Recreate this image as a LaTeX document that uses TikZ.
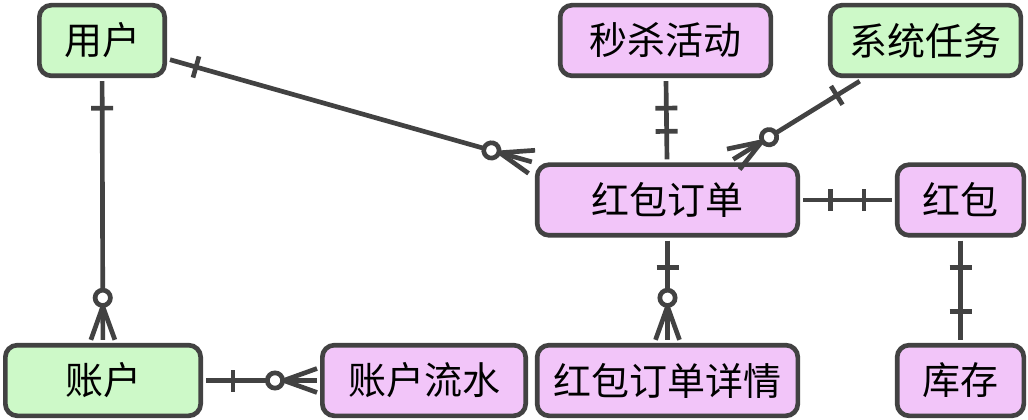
\documentclass[tikz,border=0pt]{standalone}
\usepackage{fontspec}
\newfontfamily\cjk{Noto Sans CJK SC}
\usepackage{xcolor}
\usetikzlibrary{decorations.markings}

\definecolor{lineg}{HTML}{424242}
\definecolor{entgreen}{HTML}{CDF9C8}
\definecolor{entpink}{HTML}{F2C5F9}

\tikzset{
    entity/.style={draw=lineg, line width=3.5pt, rounded corners=9pt, text=black,
        minimum height=53pt, outer sep=4pt, inner sep=0pt,
        font=\cjk\fontsize{28.5}{30}\selectfont},
    greenent/.style={entity, fill=entgreen},
    pinkent/.style={entity, fill=entpink},
    rel/.style={draw=lineg, line width=3.5pt},
    % 关系端点标记
    start one/.style={postaction={decorate, decoration={markings,
        mark=at position 20.25pt with {\draw[lineg, line width=3.5pt] (0,-8.25pt) -- (0,8.25pt);}}}},
    end one/.style={postaction={decorate, decoration={markings,
        mark=at position -21pt with {\draw[lineg, line width=3.5pt] (0,-8.25pt) -- (0,8.25pt);}}}},
    end many/.style={postaction={decorate, decoration={markings,
        mark=at position -31.5pt with {\draw[lineg, line width=3.5pt, fill=white] (0,0) circle (5.75pt);},
        mark=at position -25pt with {\draw[lineg, line width=3.5pt] (0,0) -- (25pt,9pt) (0,0) -- (25pt,-9pt);}}}},
}

\begin{document}
\begin{tikzpicture}[x=0.75pt, y=-0.75pt]
    \useasboundingbox (0,0) rectangle (1028,420);

    % 实体
    \node[greenent, minimum width=94pt]  (user)    at (102,40.5)   {用户};
    \node[pinkent,  minimum width=158pt] (seckill) at (665.5,40.5) {秒杀活动};
    \node[greenent, minimum width=143pt] (task)    at (925.5,40.5) {系统任务};
    \node[pinkent,  minimum width=195.5pt] (order)   at (667.5,200)  {红包订单};
    \node[pinkent,  minimum width=95pt]  (packet)  at (960.5,200)  {红包};
    \node[greenent, minimum width=146.5pt]    (account) at (103,380.5)  {账户};
    \node[pinkent,  minimum width=152.5pt]    (flow)    at (424,380.5)  {账户流水};
    \node[pinkent,  minimum width=195.5pt] (detail)  at (667.5,380.5) {红包订单详情};
    \node[pinkent,  minimum width=95pt]  (stock)   at (960.5,380.5) {库存};

    % 关系
    \draw[rel, start one, end many] (user) -- (order);
    \draw[rel, start one, end many] (user) -- (account);
    \draw[rel, start one, end many] (account) -- (flow);
    \draw[rel, start one, end one]  (seckill) -- (order);
    \draw[rel, start one, end many] (task) -- (order);
    \draw[rel, start one, end one]  (order) -- (packet);
    \draw[rel, start one, end many] (order) -- (detail);
    \draw[rel, start one, end one]  (packet) -- (stock);
\end{tikzpicture}
\end{document}
